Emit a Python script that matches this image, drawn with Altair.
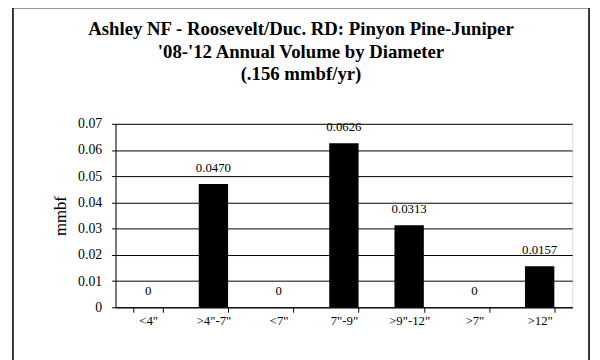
import altair as alt
import pandas as pd

categories = ['<4"', '>4"-7"', '<7"', '7"-9"', '>9"-12"', '>7"', '>12"']
values = [0.0, 0.0470, 0.0, 0.0626, 0.0313, 0.0, 0.0157]
labels = ["0", "0.0470", "0", "0.0626", "0.0313", "0", "0.0157"]
y_ticks = [0, 0.01, 0.02, 0.03, 0.04, 0.05, 0.06, 0.07]
title_lines = [
    "Ashley NF - Roosevelt/Duc. RD: Pinyon Pine-Juniper",
    "'08-'12 Annual Volume by Diameter",
    "(.156 mmbf/yr)",
]

df = pd.DataFrame({"cat": categories, "val": values, "lab": labels})
FONT = "Liberation Serif"

x = alt.X("cat:N", sort=categories, title=None,
          scale=alt.Scale(paddingInner=0.55, paddingOuter=0.275),
          axis=alt.Axis(labelAngle=0, tickBand="extent", tickSize=5,
                        domainColor="black", tickColor="black",
                        labelFont=FONT, labelFontSize=13, labelColor="black",
                        labelPadding=2))
y = alt.Y("val:Q", title="mmbf",
          scale=alt.Scale(domain=[0, 0.07], nice=False),
          axis=alt.Axis(values=y_ticks, tickSize=4, grid=True, gridColor="black",
                        gridOpacity=1, domainColor="black", tickColor="black",
                        labelOverlap=False,
                        labelExpr="datum.value == 0 ? '0' : format(datum.value, '.2f')",
                        labelFont=FONT, labelFontSize=14, labelColor="black",
                        labelPadding=10,
                        titleFont=FONT, titleFontSize=17, titleFontWeight="normal",
                        titleColor="black", titlePadding=8))

base = alt.Chart(df).encode(x=x, y=y)
bars = base.mark_bar(color="black")
text = base.mark_text(font=FONT, fontSize=13, color="black", baseline="middle",
                      dy=-16).encode(text="lab:N")

frame = alt.Chart(alt.Data(values=[{}])).mark_rect(
    fill="transparent", stroke="#333333", strokeWidth=2
).encode(x=alt.value(-104), x2=alt.value(480), y=alt.value(-118), y2=alt.value(260))

title = alt.Chart(alt.Data(values=[{}])).mark_text(
    font=FONT, fontSize=19, fontWeight="bold", color="black", align="center",
    baseline="alphabetic", lineHeight=23
).encode(x=alt.value(188), y=alt.value(-90), text=alt.value(title_lines))

chart = alt.layer(frame, bars, text, title).properties(
    width=463, height=186,
    padding={"left": 109, "top": 115, "right": 20, "bottom": 51},
    autosize=alt.AutoSizeParams(type="none"),
).configure_view(stroke="black", strokeWidth=1).configure(background="white")

chart.save("out.html", embed_options={"renderer": "svg", "actions": False})
